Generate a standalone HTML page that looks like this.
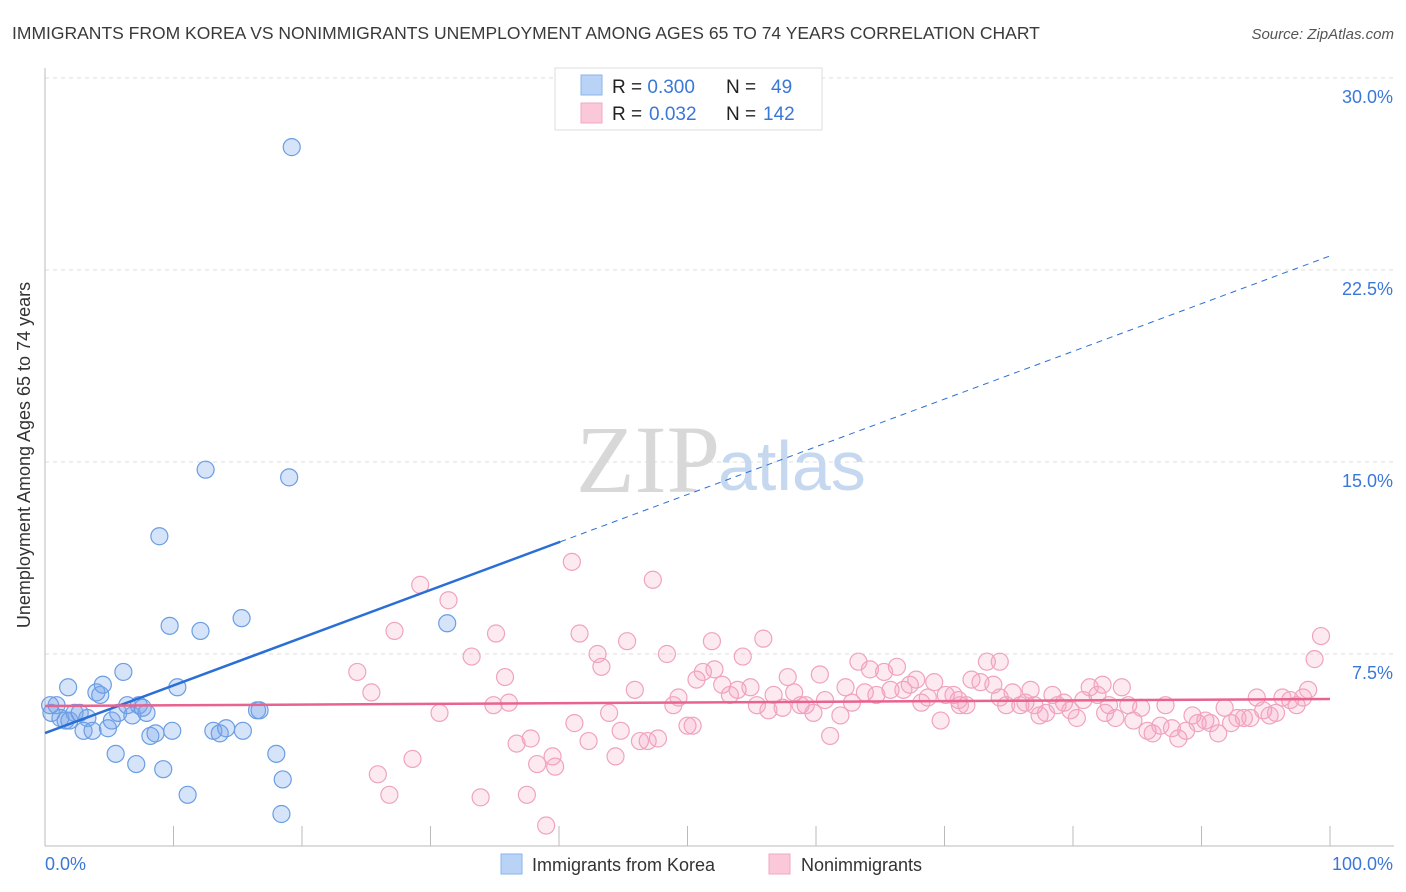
<!DOCTYPE html>
<html><head><meta charset="utf-8"><style>
body{margin:0;background:#fff;font-family:"Liberation Sans",sans-serif;}
svg{display:block}
</style></head><body>
<svg id="chart" width="1406" height="892" xmlns="http://www.w3.org/2000/svg">
<text x="12" y="39" font-size="17.5" fill="#3a3a3a">IMMIGRANTS FROM KOREA VS NONIMMIGRANTS UNEMPLOYMENT AMONG AGES 65 TO 74 YEARS CORRELATION CHART</text>
<text x="1394" y="39" font-size="15" fill="#555" font-style="italic" text-anchor="end">Source: ZipAtlas.com</text>
<g id="grid"></g>
<g id="axes"></g>
<text x="720" y="492" font-size="96" font-family="Liberation Serif,serif" fill="#d8d8d8" text-anchor="end">ZIP</text>
<text x="718" y="490" font-size="70" fill="#c5d8ef">atlas</text>
<g id="pts"></g>
<g id="lines"></g>
<text x="30" y="455" font-size="18" fill="#333" text-anchor="middle" transform="rotate(-90 30 455)">Unemployment Among Ages 65 to 74 years</text>
<g>
<rect x="555" y="68" width="267" height="62" fill="#fff" stroke="#ddd"/>
<rect x="581" y="75" width="21" height="20" fill="#b8d3f5" stroke="#8ab4ea"/>
<rect x="581" y="103" width="21" height="20" fill="#fac8d8" stroke="#f2a9c0"/>
<text x="612" y="93" font-size="19" fill="#222">R = <tspan fill="#3a78d8">0.300</tspan><tspan x="726">N =</tspan><tspan x="771" fill="#3a78d8">49</tspan></text>
<text x="612" y="120" font-size="19" fill="#222">R = <tspan x="649" fill="#3a78d8">0.032</tspan><tspan x="726">N =</tspan><tspan x="763" fill="#3a78d8">142</tspan></text>
</g>
<g>
<rect x="501" y="854" width="21" height="20" fill="#b8d3f5" stroke="#8ab4ea"/>
<text x="532" y="871" font-size="18" fill="#333">Immigrants from Korea</text>
<rect x="769" y="854" width="21" height="20" fill="#fac8d8" stroke="#f2a9c0"/>
<text x="801" y="871" font-size="18" fill="#333">Nonimmigrants</text>
</g>
</svg>
<script>
const yTicks=[7.5,15,22.5,30];
const yTickLabels=["7.5%","15.0%","22.5%","30.0%"];
const xTickCount=10;
const koreaX=[0.5,0.9,1.2,1.6,1.9,2.3,2.7,3.3,1.8,3.0,3.7,4.0,4.3,4.5,4.9,5.2,5.7,6.1,6.4,6.8,7.3,7.6,7.9,8.2,8.6,8.9,9.2,9.7,9.9,10.3,11.1,12.1,12.5,13.1,13.6,14.1,15.3,15.4,16.5,16.7,18.0,18.5,18.4,19.0,19.2,31.3,5.5,7.1,0.4];
const koreaY=[5.2,5.5,5.0,4.9,4.9,5.2,5.2,5.0,6.2,4.5,4.5,6.0,5.9,6.3,4.6,4.9,5.2,6.8,5.5,5.1,5.5,5.4,5.2,4.3,4.4,12.1,3.0,8.6,4.5,6.2,2.0,8.4,14.7,4.5,4.4,4.6,8.9,4.5,5.3,5.3,3.6,2.6,1.25,14.4,27.3,8.7,3.6,3.2,5.5];
const nonX=[24.3,25.4,25.9,26.8,27.2,28.6,29.2,30.7,31.4,33.2,33.9,34.9,35.1,35.8,36.1,36.7,37.5,37.8,38.3,39.0,39.5,39.7,41.0,41.2,41.6,42.3,43.0,43.3,43.9,44.4,44.8,45.3,45.9,46.3,46.9,47.3,47.7,48.4,48.9,49.3,50.0,50.4,50.7,51.2,51.9,52.1,52.7,53.3,53.9,54.3,54.9,55.4,55.9,56.3,56.7,57.4,57.8,58.3,58.8,59.2,59.8,60.3,60.7,61.1,61.9,62.3,62.8,63.3,63.8,64.2,64.7,65.3,65.8,66.3,66.8,67.3,67.8,68.2,68.7,69.2,69.7,70.1,70.7,71.1,71.7,72.1,72.8,73.3,73.8,74.3,74.8,75.3,75.9,76.3,76.7,77.0,77.4,77.9,78.4,78.8,79.3,79.8,80.3,80.8,81.3,81.9,82.3,82.8,83.3,83.8,84.3,84.7,85.3,85.8,86.2,86.8,87.2,87.7,88.2,88.8,89.3,89.7,90.3,90.7,91.3,91.8,92.3,92.8,93.3,93.8,94.3,94.8,95.3,95.8,96.3,96.9,97.4,97.9,98.3,98.8,99.3,74.3,71.2,82.5];
const nonY=[6.8,6.0,2.8,2.0,8.4,3.4,10.2,5.2,9.6,7.4,1.9,5.5,8.3,6.6,5.6,4.0,2.0,4.2,3.2,0.8,3.5,3.1,11.1,4.8,8.3,4.1,7.5,7.0,5.2,3.5,4.5,8.0,6.1,4.1,4.1,10.4,4.2,7.5,5.5,5.8,4.7,4.7,6.5,6.8,8.0,6.9,6.3,5.9,6.1,7.4,6.2,5.5,8.1,5.3,5.9,5.4,6.6,6.0,5.5,5.5,5.2,6.7,5.7,4.3,5.1,6.2,5.6,7.2,6.0,6.9,5.9,6.8,6.1,7.0,6.1,6.3,6.5,5.6,5.8,6.4,4.9,5.9,5.9,5.7,5.5,6.5,6.4,7.2,6.3,7.2,5.5,6.0,5.5,5.6,6.1,5.5,5.1,5.2,5.9,5.5,5.6,5.3,5.0,5.7,6.2,5.9,6.3,5.5,5.0,6.2,5.5,4.9,5.4,4.5,4.4,4.7,5.5,4.6,4.2,4.5,5.1,4.8,4.9,4.8,4.4,5.4,4.8,5.0,5.0,5.0,5.8,5.3,5.1,5.2,5.8,5.7,5.5,5.8,6.1,7.3,8.2,5.8,5.5,5.2];
const koreaTrend=[4.41,23.05];const koreaSolidEnd=40.1;
const nonTrend=[5.47,5.74];
const NS="http://www.w3.org/2000/svg";
const X0=45,X1=1330,Y0=846,YTOP=78;
const sx=v=>X0+(X1-X0)*v/100;
const sy=v=>Y0-(Y0-YTOP)*v/30;
function mk(tag,attrs,parent){const e=document.createElementNS(NS,tag);for(const k in attrs)e.setAttribute(k,attrs[k]);parent.appendChild(e);return e;}
const grid=document.getElementById('grid'),axes=document.getElementById('axes'),pts=document.getElementById('pts'),lines=document.getElementById('lines');
yTicks.forEach((t,i)=>{
 const l=mk('line',{x1:X0,x2:1394,y1:sy(t),y2:sy(t),stroke:'#ddd','stroke-dasharray':'4,4'},grid);
 
 
 const tx=mk('text',{x:1393,y:sy(t)+25,'font-size':18,fill:'#3a78d8','text-anchor':'end'},axes);
 tx.textContent=yTickLabels[i];
 
 
});
const ya=mk('line',{x1:X0,x2:X0,y1:68,y2:Y0,stroke:'#bbb'},axes);


const xa=mk('line',{x1:X0,x2:1394,y1:Y0,y2:Y0,stroke:'#bbb'},axes);


for(let i=1;i<=xTickCount;i++){
 const v=i*100/xTickCount;
 const t=mk('line',{x1:sx(v),x2:sx(v),y1:Y0-20,y2:Y0,stroke:'#bbb'},axes);
 
 
}
const xl=mk('text',{x:45,y:870,'font-size':18,fill:'#3a78d8'},axes);xl.textContent='0.0%';


const xr=mk('text',{x:1393,y:870,'font-size':18,fill:'#3a78d8','text-anchor':'end'},axes);xr.textContent='100.0%';


nonX.forEach((x,i)=>{
 const c=mk('circle',{cx:sx(x),cy:sy(nonY[i]),r:8.5,fill:'rgba(245,160,190,0.22)',stroke:'#f0a3bd','stroke-width':1.2},pts);
 
 
});
koreaX.forEach((x,i)=>{
 const c=mk('circle',{cx:sx(x),cy:sy(koreaY[i]),r:8.5,fill:'rgba(120,165,235,0.3)',stroke:'#6b9de3','stroke-width':1.2},pts);
 
 
});
const kAt=v=>koreaTrend[0]+(koreaTrend[1]-koreaTrend[0])*v/100;
const l1=mk('line',{x1:sx(0),y1:sy(kAt(0)),x2:sx(koreaSolidEnd),y2:sy(kAt(koreaSolidEnd)),stroke:'#2a6fd6','stroke-width':2.5},lines);


const l2=mk('line',{x1:sx(koreaSolidEnd),y1:sy(kAt(koreaSolidEnd)),x2:sx(100),y2:sy(kAt(100)),stroke:'#2a6fd6','stroke-width':1,'stroke-dasharray':'6,5'},lines);


const l3=mk('line',{x1:sx(0),y1:sy(nonTrend[0]),x2:sx(100),y2:sy(nonTrend[1]),stroke:'#e8638f','stroke-width':2.5},lines);


</script>
</body></html>
